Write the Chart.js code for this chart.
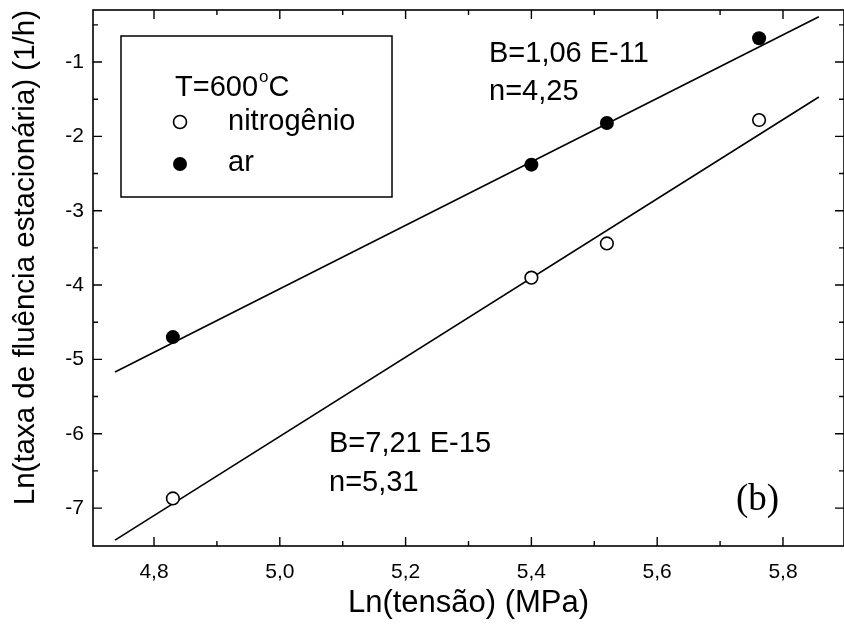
<!DOCTYPE html>
<html>
<head>
<meta charset="utf-8">
<script src="https://cdn.jsdelivr.net/npm/chart.js@4/dist/chart.umd.min.js"></script>
<style>
html,body{margin:0;padding:0;background:#fff;}
#wrap{width:844px;height:635px;}
</style>
</head>
<body>
<div id="wrap"><canvas id="c" width="844" height="635"></canvas></div>
<script>
// ---- data ----
const stressLn = [4.83, 5.40, 5.52, 5.762];
const arY = [-4.70, -2.38, -1.82, -0.68];
const n2Y = [-6.87, -3.90, -3.44, -1.78];
const fitX = [4.738, 5.857];
const arFitY = [-5.17, -0.39];
const n2FitY = [-7.43, -1.47];
const xTicks = [4.8, 5.0, 5.2, 5.4, 5.6, 5.8];
const xMinorTicks = [4.9, 5.1, 5.3, 5.5, 5.7];
const yTicks = [-7, -6, -5, -4, -3, -2, -1];
const yMinorTicks = [-6.5, -5.5, -4.5, -3.5, -2.5, -1.5, -0.5];
const xTitle = 'Ln(tensão) (MPa)';
const yTitle = 'Ln(taxa de fluência estacionária) (1/h)';
const legendTitle = ['T=600', 'o', 'C'];
const legendLabels = ['nitrogênio', 'ar'];
const annotAr = ['B=1,06 E-11', 'n=4,25'];
const annotN2 = ['B=7,21 E-15', 'n=5,31'];
const panelLabel = '(b)';

const toPts = (xs, ys) => xs.map((x, i) => ({x: x, y: ys[i]}));
const fmt = v => v.toFixed(1).replace('.', ',');
const SANS = "'Liberation Sans', Arial, sans-serif";
const SERIF = "'Liberation Serif', 'Times New Roman', serif";

const decor = {
  id: 'decor',
  afterDraw(chart) {
    const ctx = chart.ctx;
    const a = chart.chartArea;
    const xs = chart.scales.x, ys = chart.scales.y;
    ctx.save();
    ctx.strokeStyle = '#000';
    ctx.fillStyle = '#000';
    ctx.lineWidth = 1.6;
    ctx.strokeRect(a.left, a.top, a.right - a.left, a.bottom - a.top);
    // ticks (inward, all four sides)
    ctx.beginPath();
    const tickX = (v, len) => {
      const p = xs.getPixelForValue(v);
      ctx.moveTo(p, a.bottom); ctx.lineTo(p, a.bottom - len);
      ctx.moveTo(p, a.top); ctx.lineTo(p, a.top + len);
    };
    const tickY = (v, len) => {
      const p = ys.getPixelForValue(v);
      ctx.moveTo(a.left, p); ctx.lineTo(a.left + len, p);
      ctx.moveTo(a.right, p); ctx.lineTo(a.right - len, p);
    };
    xTicks.forEach(v => tickX(v, 9));
    xMinorTicks.forEach(v => tickX(v, 5));
    yTicks.forEach(v => tickY(v, 9));
    yMinorTicks.forEach(v => tickY(v, 5));
    ctx.lineWidth = 1.4;
    ctx.stroke();

    // annotations
    ctx.textBaseline = 'alphabetic';
    ctx.textAlign = 'left';
    ctx.font = '29px ' + SANS;
    ctx.fillText(annotAr[0], 489, 62);
    ctx.fillText(annotAr[1], 489, 100);
    ctx.fillText(annotN2[0], 329, 452);
    ctx.fillText(annotN2[1], 329, 491);
    ctx.font = '37px ' + SERIF;
    ctx.fillText(panelLabel, 736, 510);

    // legend box
    ctx.lineWidth = 1.5;
    ctx.strokeRect(121, 36, 271, 161);
    ctx.font = '29px ' + SANS;
    let x0 = 175;
    ctx.fillText(legendTitle[0], x0, 96);
    x0 += ctx.measureText(legendTitle[0]).width;
    ctx.font = '17px ' + SANS;
    ctx.fillText(legendTitle[1], x0 + 1, 82);
    x0 += ctx.measureText(legendTitle[1]).width + 1;
    ctx.font = '29px ' + SANS;
    ctx.fillText(legendTitle[2], x0, 96);
    ctx.fillText(legendLabels[0], 228, 130);
    ctx.fillText(legendLabels[1], 228, 171);
    // legend markers
    ctx.beginPath();
    ctx.arc(180, 122, 6.5, 0, Math.PI * 2);
    ctx.fillStyle = '#fff';
    ctx.fill();
    ctx.lineWidth = 1.6;
    ctx.stroke();
    ctx.beginPath();
    ctx.arc(180, 164, 7, 0, Math.PI * 2);
    ctx.fillStyle = '#000';
    ctx.fill();
    ctx.restore();
  }
};

new Chart(document.getElementById('c'), {
  type: 'scatter',
  data: {
    datasets: [
      {label: 'ar', data: toPts(stressLn, arY), pointStyle: 'circle', pointRadius: 7,
       backgroundColor: '#000', borderColor: '#000', borderWidth: 0, showLine: false},
      {label: 'nitrogênio', data: toPts(stressLn, n2Y), pointStyle: 'circle', pointRadius: 6.3,
       backgroundColor: '#fff', borderColor: '#000', borderWidth: 1.6, showLine: false},
      {label: 'fit ar', data: toPts(fitX, arFitY), showLine: true, pointRadius: 0,
       borderColor: '#000', borderWidth: 1.6, fill: false},
      {label: 'fit nitrogênio', data: toPts(fitX, n2FitY), showLine: true, pointRadius: 0,
       borderColor: '#000', borderWidth: 1.6, fill: false}
    ]
  },
  options: {
    responsive: false,
    animation: false,
    devicePixelRatio: 1,
    layout: {autoPadding: false, padding: {left: 0, right: -4, top: 10, bottom: 0}},
    plugins: {legend: {display: false}, tooltip: {enabled: false}},
    scales: {
      x: {
        type: 'linear', min: 4.703, max: 5.897,
        afterBuildTicks: s => { s.ticks = xTicks.map(v => ({value: v})); },
        afterFit: s => { s.height = 89; s.paddingLeft = 0; s.paddingRight = 0; },
        grid: {display: false, drawTicks: false},
        border: {display: false},
        ticks: {callback: v => fmt(v), padding: 14, color: '#000', maxRotation: 0,
                font: {family: SANS, size: 21}},
        title: {display: true, text: xTitle, color: '#000',
                font: {family: SANS, size: 31}, padding: {top: 0, bottom: 13}}
      },
      y: {
        type: 'linear', min: -7.51, max: -0.30,
        afterBuildTicks: s => { s.ticks = yTicks.map(v => ({value: v})); },
        afterFit: s => { s.width = 93; s.paddingTop = 0; s.paddingBottom = 0; },
        grid: {display: false, drawTicks: false},
        border: {display: false},
        ticks: {callback: v => String(v), padding: 9, color: '#000',
                font: {family: SANS, size: 21}},
        title: {display: true, text: yTitle, color: '#000', align: 'end',
                font: {family: SANS, size: 29.5}, padding: {top: 8, bottom: 0}}
      }
    }
  },
  plugins: [decor]
});
</script>
</body>
</html>
